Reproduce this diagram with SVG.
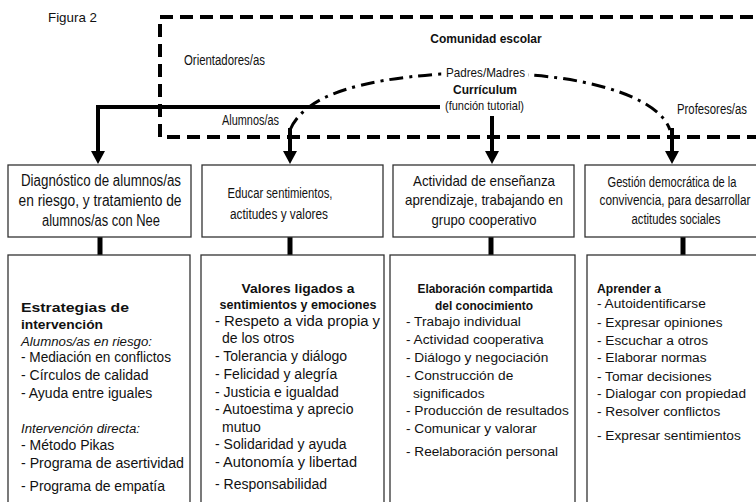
<svg xmlns="http://www.w3.org/2000/svg" width="756" height="502" viewBox="0 0 756 502">
<style>
text{font-family:"Liberation Sans",Arial,sans-serif;fill:#111}
.lbl{font-size:14px}
.hd{text-anchor:middle}
.it{font-size:13.7px}
.it1{font-size:14px}
.it2{font-size:14px}
.bt{font-size:13px;font-weight:bold}
.btc{font-size:13px;font-weight:bold;text-anchor:middle}
.em{font-size:13.7px;font-style:italic}
.box{fill:#fff;stroke:#333;stroke-width:1.3}
.solid{fill:none;stroke:#000;stroke-width:4}
.stub{fill:none;stroke:#000;stroke-width:5}
</style>
<defs>
<marker id="ah" markerUnits="userSpaceOnUse" markerWidth="14" markerHeight="14" refX="0" refY="7" orient="auto" overflow="visible">
<path d="M0,0 L13,7 L0,14 Z" fill="#000"/>
</marker>
<clipPath id="c3"><rect x="390" y="255" width="184.5" height="250"/></clipPath>
</defs>
<rect width="756" height="502" fill="#fff"/>
<text x="48" y="22" textLength="49" lengthAdjust="spacingAndGlyphs" style="font-size:13.5px">Figura 2</text>

<g id="comunidad">
<rect x="160" y="17" width="700" height="120" fill="none" stroke="#000" stroke-width="4" stroke-dasharray="13 7"/>
<text x="486" y="43" style="font-size:12px;font-weight:bold;text-anchor:middle">Comunidad escolar</text>
</g>

<g id="connectors">
<path class="solid" d="M96,107 H440"/>
<path class="solid" d="M98,107 V151" marker-end="url(#ah)"/>
<path d="M290,130 C305,95 360,80 440,74 L530,75 C600,80 660,100 670,130" fill="none" stroke="#000" stroke-width="3" stroke-dasharray="14 6 3 6"/>
<path class="solid" d="M290,128 V151" marker-end="url(#ah)"/>
<path class="solid" d="M492,116 V151" marker-end="url(#ah)"/>
<path class="solid" d="M672,128 V151" marker-end="url(#ah)"/>
<path class="stub" d="M100,237 V255"/>
<path class="stub" d="M290,237 V255"/>
<path class="stub" d="M491,237 V255"/>
<path class="stub" d="M683,237 V255"/>
</g>

<g id="labels">
<text class="lbl" x="184" y="65" textLength="81" lengthAdjust="spacingAndGlyphs">Orientadores/as</text>
<text class="lbl" x="222" y="125" textLength="57" lengthAdjust="spacingAndGlyphs">Alumnos/as</text>
<rect x="443" y="64" width="85" height="16" fill="#fff"/>
<text x="446" y="77" textLength="79" lengthAdjust="spacingAndGlyphs" style="font-size:13.5px">Padres/Madres</text>
<text x="453" y="94" textLength="64" lengthAdjust="spacingAndGlyphs" style="font-size:13.5px;font-weight:bold">Currículum</text>
<text x="445" y="110" textLength="79" lengthAdjust="spacingAndGlyphs" style="font-size:13.5px">(función tutorial)</text>
<text class="lbl" x="677" y="114" textLength="70" lengthAdjust="spacingAndGlyphs">Profesores/as</text>
</g>

<g id="diagnostico" style="font-size:16px">
<rect class="box" x="8" y="165" width="183" height="72"/>
<text class="hd" x="101" y="186" textLength="160" lengthAdjust="spacingAndGlyphs">Diagnóstico de alumnos/as</text>
<text class="hd" x="100" y="205.5" textLength="163" lengthAdjust="spacingAndGlyphs">en riesgo, y tratamiento de</text>
<text class="hd" x="101" y="225.5" textLength="118" lengthAdjust="spacingAndGlyphs">alumnos/as con Nee</text>
</g>

<g id="educar" style="font-size:14px">
<rect class="box" x="202" y="165" width="181" height="72"/>
<text class="hd" x="280" y="198" textLength="105" lengthAdjust="spacingAndGlyphs">Educar sentimientos,</text>
<text class="hd" x="279" y="218.5" textLength="98" lengthAdjust="spacingAndGlyphs">actitudes y valores</text>
</g>

<g id="actividad" style="font-size:15px">
<rect class="box" x="393" y="165" width="181" height="72"/>
<text class="hd" x="484" y="185.5" textLength="142" lengthAdjust="spacingAndGlyphs">Actividad de enseñanza</text>
<text class="hd" x="484" y="204.5" textLength="158" lengthAdjust="spacingAndGlyphs">aprendizaje, trabajando en</text>
<text class="hd" x="484" y="225" textLength="105" lengthAdjust="spacingAndGlyphs">grupo cooperativo</text>
</g>

<g id="gestion" style="font-size:14px">
<rect class="box" x="585" y="165" width="200" height="72"/>
<text class="hd" x="672" y="186.5" textLength="129" lengthAdjust="spacingAndGlyphs">Gestión democrática de la</text>
<text class="hd" x="675" y="205" textLength="151" lengthAdjust="spacingAndGlyphs">convivencia, para desarrollar</text>
<text class="hd" x="676" y="223.5" textLength="89" lengthAdjust="spacingAndGlyphs">actitudes sociales</text>
</g>

<g id="estrategias">
<rect class="box" x="8" y="255" width="182" height="260"/>
<text class="bt" x="21" y="312" textLength="108" lengthAdjust="spacingAndGlyphs">Estrategias de</text>
<text class="bt" x="21" y="329" textLength="82" lengthAdjust="spacingAndGlyphs">intervención</text>
<text class="em" x="21" y="346" textLength="131" lengthAdjust="spacingAndGlyphs">Alumnos/as en riesgo:</text>
<text class="it1" x="21" y="362" textLength="150" lengthAdjust="spacingAndGlyphs">- Mediación en conflictos</text>
<text class="it1" x="21" y="380">- Círculos de calidad</text>
<text class="it1" x="21" y="398">- Ayuda entre iguales</text>
<text class="em" x="21" y="433" textLength="119" lengthAdjust="spacingAndGlyphs">Intervención directa:</text>
<text class="it1" x="21" y="450">- Método Pikas</text>
<text class="it1" x="21" y="468" textLength="163" lengthAdjust="spacingAndGlyphs">- Programa de asertividad</text>
<text class="it1" x="21" y="491">- Programa de empatía</text>
</g>

<g id="valores">
<rect class="box" x="201" y="255" width="183" height="260"/>
<text class="btc" x="298" y="293" textLength="113" lengthAdjust="spacingAndGlyphs">Valores ligados a</text>
<text class="btc" x="298" y="309" textLength="157" lengthAdjust="spacingAndGlyphs">sentimientos y emociones</text>
<text class="it2" x="215" y="326" textLength="165" lengthAdjust="spacingAndGlyphs">- Respeto a vida propia y</text>
<text class="it2" x="222" y="343">de los otros</text>
<text class="it2" x="215" y="361">- Tolerancia y diálogo</text>
<text class="it2" x="215" y="379">- Felicidad y alegría</text>
<text class="it2" x="215" y="397">- Justicia e igualdad</text>
<text class="it2" x="215" y="414">- Autoestima y aprecio</text>
<text class="it2" x="222" y="432">mutuo</text>
<text class="it2" x="215" y="449">- Solidaridad y ayuda</text>
<text class="it2" x="215" y="467" textLength="142" lengthAdjust="spacingAndGlyphs">- Autonomía y libertad</text>
<text class="it2" x="215" y="489">- Responsabilidad</text>
</g>

<g id="elaboracion">
<rect class="box" x="390" y="255" width="185" height="260"/>
<text class="btc" x="485" y="293" textLength="135" lengthAdjust="spacingAndGlyphs">Elaboración compartida</text>
<text class="btc" x="484" y="310" textLength="98" lengthAdjust="spacingAndGlyphs">del conocimiento</text>
<g clip-path="url(#c3)">
<text class="it" x="406" y="326">- Trabajo individual</text>
<text class="it" x="406" y="344">- Actividad cooperativa</text>
<text class="it" x="406" y="362">- Diálogo y negociación</text>
<text class="it" x="406" y="380">- Construcción de</text>
<text class="it" x="413" y="398">significados</text>
<text class="it" x="406" y="415">- Producción de resultados</text>
<text class="it" x="406" y="433">- Comunicar y valorar</text>
<text class="it" x="406" y="456" textLength="152" lengthAdjust="spacingAndGlyphs">- Reelaboración personal</text>
</g>
</g>

<g id="aprender">
<rect class="box" x="587" y="255" width="200" height="260"/>
<text class="bt" x="597" y="293" textLength="64" lengthAdjust="spacingAndGlyphs">Aprender a</text>
<text class="it" x="597" y="308">- Autoidentificarse</text>
<text class="it" x="597" y="327">- Expresar opiniones</text>
<text class="it" x="597" y="345">- Escuchar a otros</text>
<text class="it" x="597" y="362">- Elaborar normas</text>
<text class="it" x="597" y="381">- Tomar decisiones</text>
<text class="it" x="597" y="398" textLength="149" lengthAdjust="spacingAndGlyphs">- Dialogar con propiedad</text>
<text class="it" x="597" y="416">- Resolver conflictos</text>
<text class="it" x="597" y="440">- Expresar sentimientos</text>
</g>
</svg>
